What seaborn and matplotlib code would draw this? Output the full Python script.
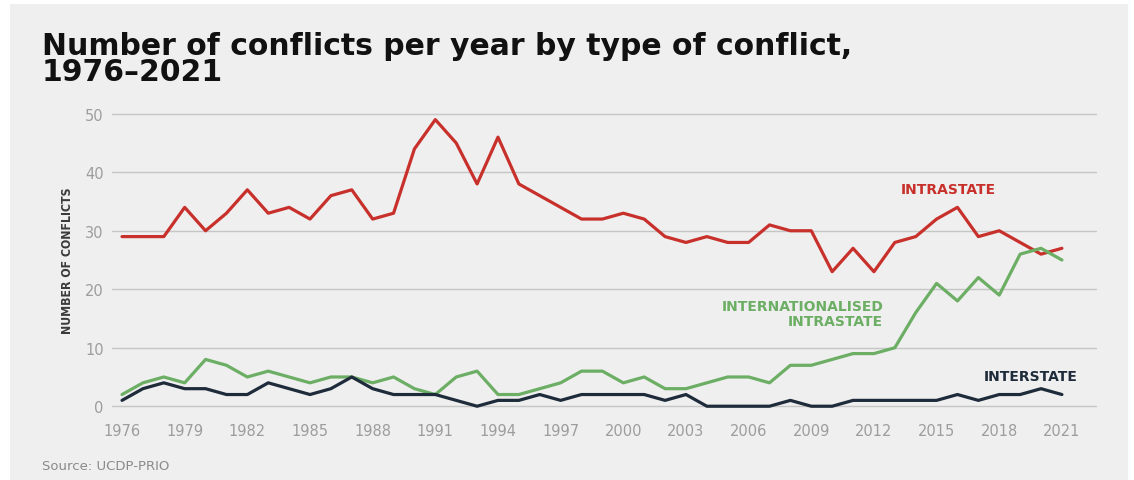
import numpy as np
import pandas as pd
import matplotlib
matplotlib.use("Agg")
import matplotlib.pyplot as plt
from matplotlib.patches import Rectangle
import seaborn as sns

years = list(range(1976, 2022))

intrastate = [29, 29, 29, 34, 30, 33, 37, 33, 34, 32, 36, 37, 32, 33, 44, 49,
              45, 38, 46, 38, 36, 34, 32, 32, 33, 32, 29, 28, 29, 28, 28, 31,
              30, 30, 23, 27, 23, 28, 29, 32, 34, 29, 30, 28, 26, 27]

internationalised = [2, 4, 5, 4, 8, 7, 5, 6, 5, 4, 5, 5, 4, 5, 3, 2,
                     5, 6, 2, 2, 3, 4, 6, 6, 4, 5, 3, 3, 4, 5, 5, 4,
                     7, 7, 8, 9, 9, 10, 16, 21, 18, 22, 19, 26, 27, 25]

interstate = [1, 3, 4, 3, 3, 2, 2, 4, 3, 2, 3, 5, 3, 2, 2, 2,
              1, 0, 1, 1, 2, 1, 2, 2, 2, 2, 1, 2, 0, 0, 0, 0,
              1, 0, 0, 1, 1, 1, 1, 1, 2, 1, 2, 2, 3, 2]

series_names = ["Intrastate", "Internationalised intrastate", "Interstate"]
series_colors = ["#c8302b", "#6cae64", "#1e2b3a"]
x_ticks = list(range(1976, 2022, 3))
y_ticks = [0, 10, 20, 30, 40, 50]

df = pd.DataFrame({
    "year": years * 3,
    "conflicts": intrastate + internationalised + interstate,
    "type": [series_names[0]] * len(years) + [series_names[1]] * len(years)
            + [series_names[2]] * len(years),
})

sns.set_theme(style="white")
plt.rcParams["font.family"] = ["DejaVu Sans"]

W, H = 1134, 481
fig = plt.figure(figsize=(W / 100, H / 100), dpi=100, facecolor="white")
fig.patches.append(Rectangle((10 / W, 0), 1118 / W, 1 - 5 / H,
                             transform=fig.transFigure, facecolor="#efefef",
                             edgecolor="none", zorder=-10))

# axes box in pixels: x 112..1097, y (top) 106..416
ax = fig.add_axes([112 / W, 1 - 416 / H, (1097 - 112) / W, (416 - 106) / H])
ax.set_facecolor("none")

sns.lineplot(data=df, x="year", y="conflicts", hue="type",
             hue_order=series_names, palette=series_colors,
             linewidth=2.3, legend=False, ax=ax)

ax.set_xlim(1975.52, 2022.68)
ax.set_ylim(-1.5, 51.5)
ax.set_xticks(x_ticks)
ax.set_yticks(y_ticks)
ax.tick_params(axis="both", length=0, labelsize=10.5, labelcolor="#9d9d9d")
ax.tick_params(axis="y", pad=6)
ax.tick_params(axis="x", pad=6)
for s in ax.spines.values():
    s.set_visible(False)
ax.grid(axis="y", color="#c6c6c6", linewidth=1)
ax.grid(axis="x", visible=False)
ax.set_axisbelow(True)
ax.set_xlabel("")
ax.set_ylabel("NUMBER OF CONFLICTS", fontsize=8.8, fontweight="bold",
              color="#3a3a3a", fontstretch="condensed", labelpad=8)

# series labels
ax.text(2013.3, 37.1, "INTRASTATE", color=series_colors[0], fontsize=10,
        fontweight="bold", ha="left", va="center")
ax.text(2012.45, 15.9, "INTERNATIONALISED\nINTRASTATE", color=series_colors[1],
        fontsize=10, fontweight="bold", ha="right", va="center",
        multialignment="right", linespacing=1.1)
ax.text(2019.5, 5.1, "INTERSTATE", color=series_colors[2], fontsize=10,
        fontweight="bold", ha="center", va="center")

fig.text(42 / W, 1 - 81 / H,
         "Number of conflicts per year by type of conflict,\n1976\u20132021",
         fontsize=21.5, fontweight="bold", color="#111111",
         ha="left", va="baseline", linespacing=0.88)
fig.text(42 / W, 1 - 466 / H, "Source: UCDP-PRIO", fontsize=9.5,
         color="#8a8a8a", ha="left", va="center")

fig.savefig("out.png", dpi=100, facecolor="white")
